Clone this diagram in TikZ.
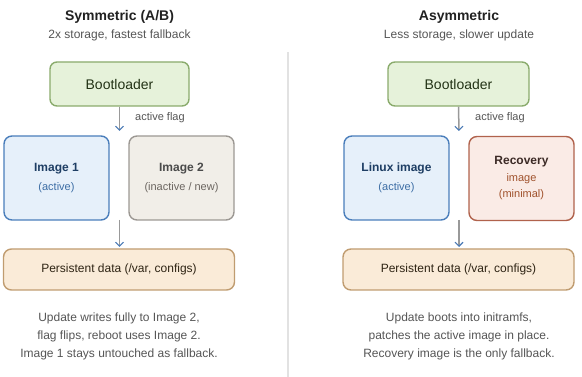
\documentclass[tikz,border=0pt]{standalone}
\usepackage{fontspec}
\setmainfont{Liberation Sans}
\usetikzlibrary{arrows.meta}
\definecolor{bootfill}{HTML}{E6F2DA}
\definecolor{bootdraw}{HTML}{8AAB6C}
\definecolor{boottext}{HTML}{233316}
\definecolor{actfill}{HTML}{E6F0FA}
\definecolor{actdraw}{HTML}{4A7EBB}
\definecolor{acttitle}{HTML}{1E3E64}
\definecolor{actsub}{HTML}{3D6EA5}
\definecolor{inafill}{HTML}{F1EEE8}
\definecolor{inadraw}{HTML}{9C9893}
\definecolor{inatitle}{HTML}{4A4A4A}
\definecolor{inasub}{HTML}{6B6560}
\definecolor{recfill}{HTML}{FAEBE6}
\definecolor{recdraw}{HTML}{B0624C}
\definecolor{rectitle}{HTML}{3C2A26}
\definecolor{recsub}{HTML}{A0522D}
\definecolor{perfill}{HTML}{FAEBD8}
\definecolor{perdraw}{HTML}{C09C70}
\definecolor{pertext}{HTML}{2E2414}
\definecolor{capgray}{HTML}{555555}
\definecolor{divgray}{HTML}{E2E2E2}
\definecolor{arrgray}{HTML}{999999}
\definecolor{tipblue}{HTML}{4A7AB5}
\tikzset{
  box/.style={draw, line width=1.4pt, rounded corners=8pt, inner sep=0pt, align=center},
  bootbox/.style={box, fill=bootfill, draw=bootdraw, text=boottext, minimum height=44pt,
    font=\fontsize{14}{16}\selectfont, rounded corners=7pt},
  actbox/.style={box, fill=actfill, draw=actdraw, minimum width=105pt, minimum height=84pt,
    font=\fontsize{11}{14}\selectfont},
  inabox/.style={box, fill=inafill, draw=inadraw, minimum width=105pt, minimum height=84pt,
    font=\fontsize{11}{14}\selectfont},
  recbox/.style={box, fill=recfill, draw=recdraw, minimum width=105pt, minimum height=84pt,
    font=\fontsize{11}{14}\selectfont},
  perbox/.style={box, fill=perfill, draw=perdraw, text=pertext, minimum width=231pt,
    minimum height=41pt, font=\fontsize{12}{14}\selectfont},
  ttl/.style={font=\bfseries\fontsize{14}{16}\selectfont, text=black!87, inner sep=0pt},
  subttl/.style={font=\fontsize{12}{14}\selectfont, text=capgray, inner sep=0pt},
  flaglbl/.style={font=\fontsize{11}{13}\selectfont, text=capgray, inner sep=0pt, anchor=west},
  caption/.style={font=\fontsize{12}{18}\selectfont, text=capgray, align=center, inner sep=0pt},
  conn/.style={draw=arrgray, line width=1.5pt,
    -{Straight Barb[color=tipblue, length=4pt, width=8pt, line width=1.1pt]}},
}
\begin{document}
\begin{tikzpicture}[x=1pt,y=-1pt]
\useasboundingbox (0,0) rectangle (582,377);
% divider
\draw[divgray, line width=1.6pt] (288,52) -- (288,377);

% ---------- left: symmetric ----------
\node[ttl] (tL) at (119.5,17) {Symmetric (A/B)};
\node[subttl] (sL) at (119.5,35) {2x storage, fastest fallback};
\node[bootbox, minimum width=139pt] (bootL) at (119.5,84) {Bootloader};
\node[actbox] (img1) at (56.5,178)
  {\textcolor{acttitle}{\bfseries\fontsize{12}{14}\selectfont Image 1}\\[5pt]\textcolor{actsub}{(active)}};
\node[inabox] (img2) at (181.5,178)
  {\textcolor{inatitle}{\bfseries\fontsize{12}{14}\selectfont Image 2}\\[5pt]\textcolor{inasub}{(inactive / new)}};
\node[perbox] (perL) at (119,269.5) {Persistent data (/var, configs)};
\coordinate (aL) at (119.5,131);
\coordinate (bL) at (119.5,220);
\coordinate (cL) at (119.5,247);
\draw[conn] (bootL.south) -- (aL);
\draw[conn] (bL) -- (cL);
\node[flaglbl] (fL) at (135,118) {active flag};
\node[caption] (capL) at (119,336)
  {Update writes fully to Image 2,\\flag flips, reboot uses Image 2.\\Image 1 stays untouched as fallback.};

% ---------- right: asymmetric ----------
\node[ttl] (tR) at (459,17) {Asymmetric};
\node[subttl] (sR) at (459,35) {Less storage, slower update};
\node[bootbox, minimum width=141pt] (bootR) at (458.5,84) {Bootloader};
\node[actbox] (lin) at (396.5,178)
  {\textcolor{acttitle}{\bfseries\fontsize{12}{14}\selectfont Linux image}\\[5pt]\textcolor{actsub}{(active)}};
\node[recbox] (rec) at (521.5,178.5)
  {\textcolor{rectitle}{\bfseries\fontsize{12}{14}\selectfont Recovery}\\[2.5pt]\textcolor{recsub}{image}\\[2.5pt]\textcolor{recsub}{(minimal)}};
\node[perbox] (perR) at (458.5,269.5) {Persistent data (/var, configs)};
\coordinate (aR) at (459,131);
\coordinate (bR) at (459,220);
\coordinate (cR) at (459,247);
\draw[conn] (bootR.south) -- (aR);
\draw[conn] (bR) -- (cR);
\node[flaglbl] (fR) at (475,118) {active flag};
\node[caption] (capR) at (459,336)
  {Update boots into initramfs,\\patches the active image in place.\\Recovery image is the only fallback.};
\end{tikzpicture}
\end{document}
